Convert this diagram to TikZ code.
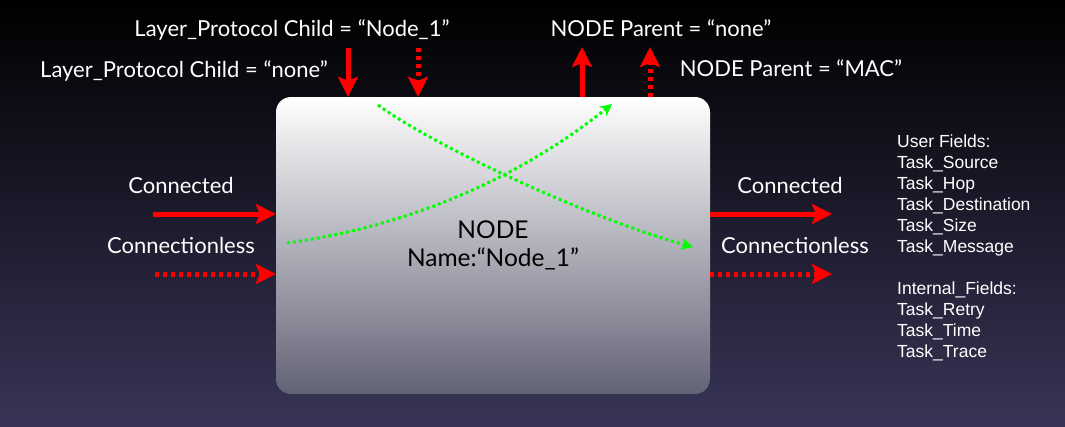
\documentclass[tikz,border=0pt]{standalone}
\usepackage{fontspec}
\setmainfont{Lato}
\newfontfamily\fieldfont{Liberation Sans}
\usepackage{tikz}
\usetikzlibrary{arrows.meta, positioning}

\definecolor{bgmid}{RGB}{10,10,30}
\definecolor{bgbot}{RGB}{56,52,86}
\definecolor{boxbot}{RGB}{98,98,118}
\definecolor{linkred}{RGB}{255,0,0}
\definecolor{flowgreen}{RGB}{0,255,0}

\begin{document}
\begin{tikzpicture}[x=1pt, y=-1pt]

\tikzset{
  nodebox/.style  = {rectangle, rounded corners=15pt, minimum width=434pt,
                     minimum height=297pt, align=center, top color=white,
                     bottom color=boxbot, font=\fontsize{24.5}{28}\selectfont,
                     text=black},
  lbl/.style      = {font=\fontsize{22}{26}\selectfont, text=white,
                     inner sep=0pt, anchor=base},
  fields/.style   = {font=\fieldfont\fontsize{17.5}{21}\selectfont, text=white,
                     align=left, inner sep=0pt, anchor=north west},
  redarr/.style   = {-{Stealth[length=20pt,width=20pt,inset=4pt]},
                     line width=5pt, linkred},
  reddot/.style   = {redarr, dash pattern=on 4pt off 4pt},
  greendot/.style = {-{Stealth[length=12pt,width=12pt]}, line width=3pt,
                     flowgreen, dash pattern=on 3pt off 3pt}
}

%% ── Background ──────────────────────────────────────────────────
\useasboundingbox (0,0) rectangle (1065,426);
\shade[top color=black, middle color=bgmid, bottom color=bgbot]
      (0,0) rectangle (1065,426);

%% ── NODE box ────────────────────────────────────────────────────
\node[nodebox] (nodebox) at (493, 245.5) {NODE\\Name:“Node\_1”};

%% ── Top labels ──────────────────────────────────────────────────
\node[lbl] (childone)   at (292, 36) {Layer\_Protocol Child = “Node\_1”};
\node[lbl] (childnone)  at (184, 77) {Layer\_Protocol Child = “none”};
\node[lbl] (parentnone) at (661, 36) {NODE Parent = “none”};
\node[lbl] (parentmac)  at (791, 76) {NODE Parent = “MAC”};

%% ── Side labels ─────────────────────────────────────────────────
\node[lbl] (conleft)    at (181, 193) {Connected};
\node[lbl] (clessleft)  at (181, 253) {Connectionless};
\node[lbl] (conright)   at (790, 193) {Connected};
\node[lbl] (clessright) at (795, 253) {Connectionless};

%% ── Field list ──────────────────────────────────────────────────
\node[fields] (fieldlist) at (897, 135)
      {User Fields:\\Task\_Source\\Task\_Hop\\Task\_Destination\\Task\_Size\\
       Task\_Message\\[21pt]Internal\_Fields:\\Task\_Retry\\Task\_Time\\Task\_Trace};

%% ── Free arrow ends ─────────────────────────────────────────────
\coordinate (conin)        at (153, 214);
\coordinate (clessin)      at (155, 274);
\coordinate (conout)       at (832, 214);
\coordinate (clessout)     at (832, 274);
\coordinate (childin)      at (348, 48);
\coordinate (childdotin)   at (418, 48);
\coordinate (parentout)    at (582, 47);
\coordinate (parentdotout) at (650, 47);

%% ── Arrows: left and right ──────────────────────────────────────
\draw[redarr] (conin)   -- (conin -| nodebox.west);
\draw[reddot] (clessin) -- (clessin -| nodebox.west);
\draw[redarr] (conout -| nodebox.east)   -- (conout);
\draw[reddot] (clessout -| nodebox.east) -- (clessout);

%% ── Arrows: top ─────────────────────────────────────────────────
\draw[redarr] (childin)    -- (childin |- nodebox.north);
\draw[reddot] (childdotin) -- (childdotin |- nodebox.north);
\draw[redarr] (parentout |- nodebox.north)    -- (parentout);
\draw[reddot] (parentdotout |- nodebox.north) -- (parentdotout);

%% ── Green flows ─────────────────────────────────────────────────
\coordinate (flowastart) at (378, 105);
\coordinate (flowaend)   at (693, 247);
\coordinate (flowbstart) at (287, 243);
\coordinate (flowbend)   at (612, 104);
\draw[greendot] (flowastart) .. controls (440,150) and (600,222) .. (flowaend);
\draw[greendot] (flowbstart) .. controls (420,225) and (530,170) .. (flowbend);

\end{tikzpicture}
\end{document}
